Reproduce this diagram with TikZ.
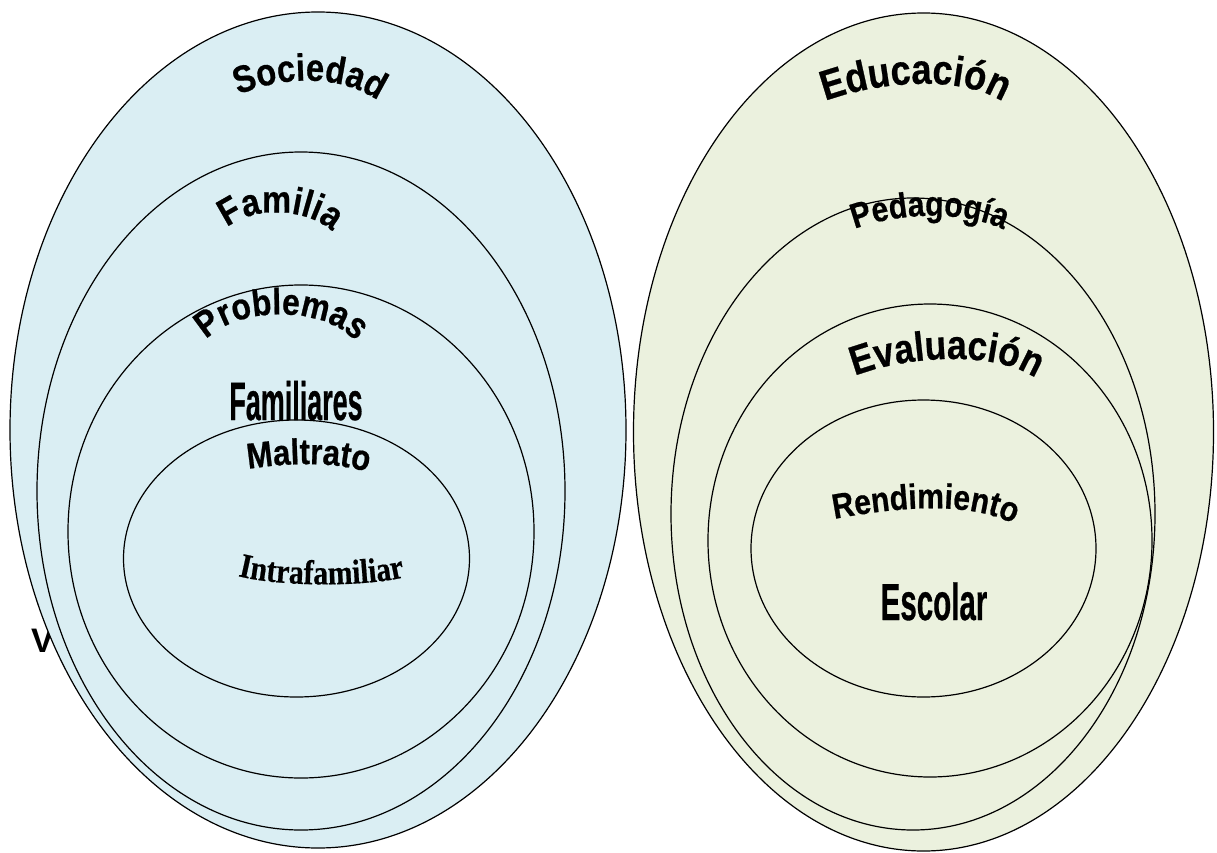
\documentclass[tikz,border=0pt]{standalone}
\usepackage{fontspec}
\setmainfont{Liberation Sans}
\newfontfamily\archfont{Liberation Sans}[FakeStretch=0.86,FakeBold=0.6]
\newfontfamily\archserif{Liberation Serif}[FakeStretch=0.86,FakeBold=0.5]
\usetikzlibrary{shapes.geometric,decorations.text}
\definecolor{leftfill}{HTML}{DAEEF3}
\definecolor{rightfill}{HTML}{EBF1DE}
\begin{document}
\begin{tikzpicture}[x=1pt,y=-1pt,
  ring/.style={ellipse, draw=black, line width=1.2pt, inner sep=0pt},
  lring/.style={ring, fill=leftfill},
  rring/.style={ring, fill=rightfill},
  arch/.style={decorate, decoration={text along path, text={#1}, text align=center}},
  narrow/.style={inner sep=0pt, anchor=base}
]
\useasboundingbox (0,0) rectangle (1217,853);
\fill[white] (0,0) rectangle (1217,853);

% partly hidden letter
\node[inner sep=0pt, anchor=base west, font=\fontsize{34}{34}\selectfont\bfseries] (vletter) at (31,652) {V};

% left group
\node[lring, minimum width=616pt, minimum height=836pt] (soc) at (318,430) {};
\node[lring, minimum width=528pt, minimum height=678pt] (fam) at (301,491) {};
\node[lring, minimum width=466pt, minimum height=493pt] (prob) at (301,531.5) {};
\node[lring, minimum width=346pt, minimum height=277pt] (malt) at (296.5,558.5) {};

% right group
\node[rring, minimum width=580pt, minimum height=838pt] (edu) at (923.5,432) {};
\node[rring, minimum width=484pt, minimum height=632pt] (ped) at (913,514) {};
\node[rring, minimum width=444pt, minimum height=473pt] (eval) at (930,540.5) {};
\node[rring, minimum width=345pt, minimum height=297pt] (rend) at (923.5,548.5) {};

% arched labels, left
\path[arch={|\fontsize{38}{38}\archfont\bfseries|Sociedad}]
  (236,96) .. controls (280,76) and (340,73) .. (380,102);
\path[arch={|\fontsize{38}{38}\archfont\bfseries|Familia}]
  (226,229) .. controls (250,205) and (312,208) .. (333,233);
\path[arch={|\fontsize{37}{37}\archfont\bfseries|Problemas}]
  (206,340) .. controls (238,305) and (326,306) .. (356,342);
\node[narrow] (familiares) at (296,420) {\fontsize{54}{54}\archfont\bfseries\scalebox{0.58}[1]{Familiares}};
\path[arch={|\fontsize{36}{36}\archfont\bfseries|Maltrato}]
  (248,469) .. controls (288,463) and (330,461) .. (368,472);
\path[arch={|\fontsize{34.5}{35}\archserif\bfseries|Intrafamiliar}]
  (238,576) .. controls (280,587) and (365,587) .. (405,577);

% arched labels, right
\path[arch={|\fontsize{42}{42}\archfont\bfseries|Educación}]
  (825,101) .. controls (877,82) and (960,74) .. (1003,102);
\path[arch={|\fontsize{35}{35}\archfont\bfseries|Pedagogía}]
  (852,230) .. controls (894,213) and (965,209) .. (1006,231);
\path[arch={|\fontsize{41}{41}\archfont\bfseries|Evaluación}]
  (852,377) .. controls (903,356) and (997,349) .. (1038,380);
\path[arch={|\fontsize{35}{35}\archfont\bfseries|Rendimiento}]
  (834,519) .. controls (888,509) and (964,499) .. (1014,524);
\node[narrow] (escolar) at (934,620) {\fontsize{52}{52}\archfont\bfseries\scalebox{0.66}[1]{Escolar}};
\end{tikzpicture}
\end{document}
